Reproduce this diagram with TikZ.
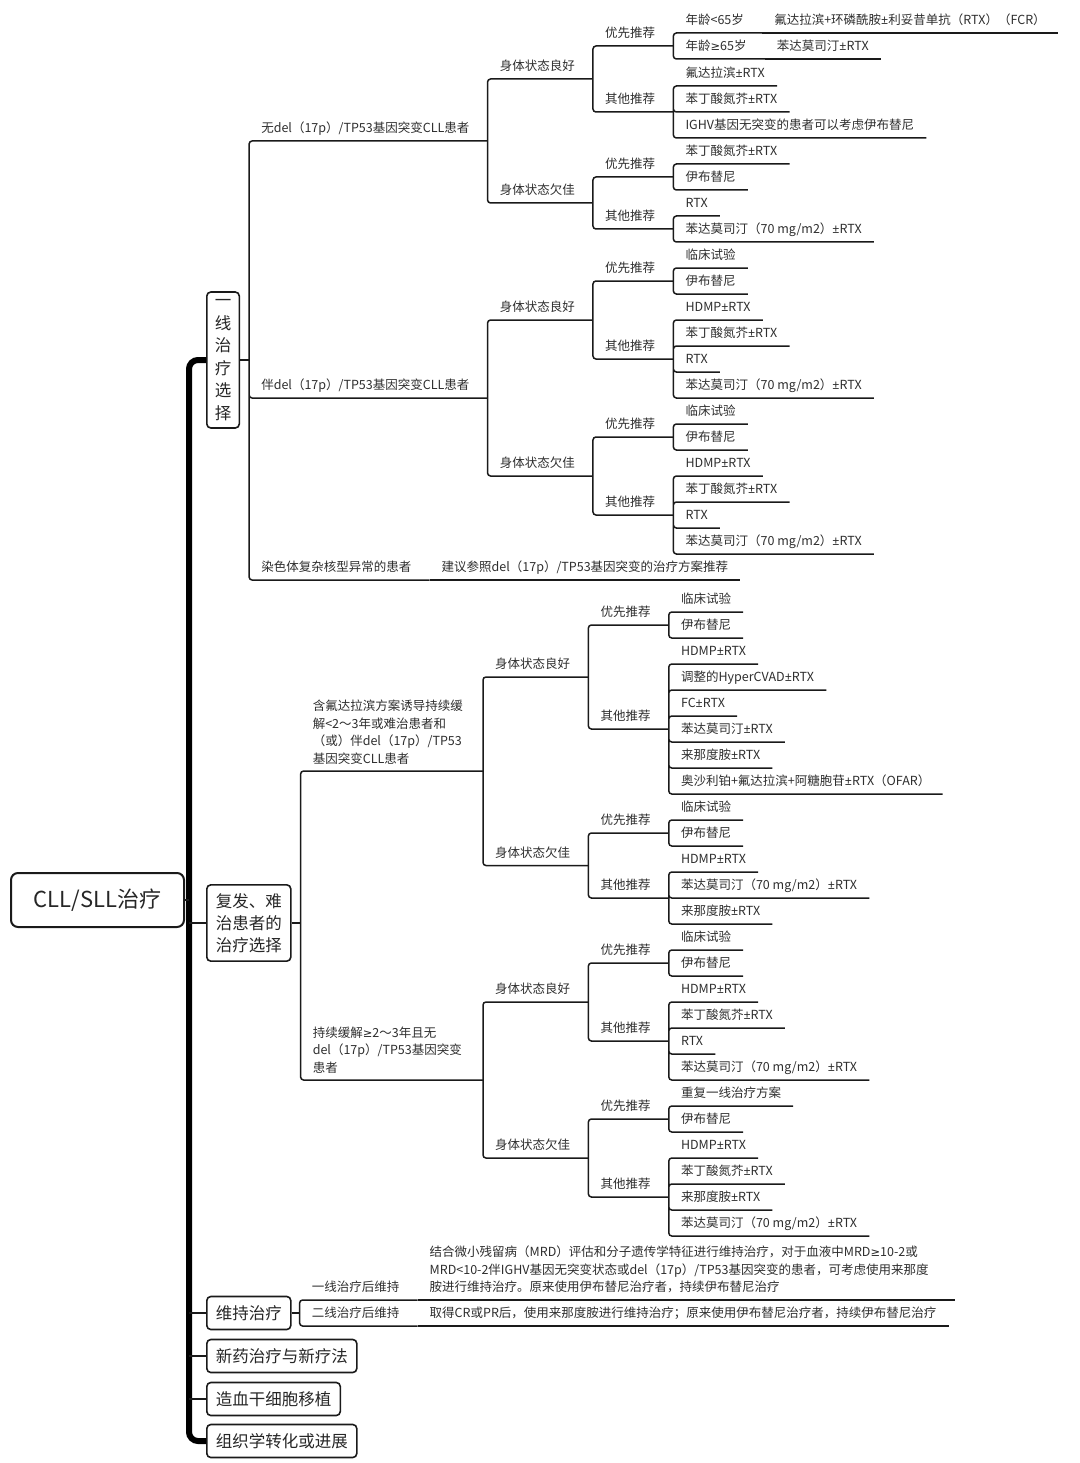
\documentclass[tikz,border=0pt]{standalone}
\usepackage{fontspec}
\setmainfont{Noto Sans CJK SC}
\newfontfamily\latinfont{Noto Sans}
\newfontfamily\symfont{DejaVu Sans}
\newcommand{\pmx}{{\latinfont ±}}
\newcommand{\gex}{{\symfont\fontsize{11.5}{11.5}\selectfont ≥}}
\definecolor{ink}{HTML}{2E2E2E}
\definecolor{edge}{HTML}{1A1A1A}

\tikzset{
  tnode/.style={anchor=south west, inner xsep=12pt, inner ysep=6pt, text depth=2pt, text=ink, font=\fontsize{12.5}{17}\selectfont},
  branch/.style={tnode, execute at end node={\hspace{6pt}}},
  wrapped/.style={anchor=south west, inner xsep=12pt, inner ysep=6.5pt, align=left, text=ink, font=\fontsize{12.5}{17.5}\selectfont},
  link/.style={draw=edge, line width=1.5pt, rounded corners=3pt},
  topic/.style={draw=edge, line width=1.6pt, rounded corners=4pt, anchor=west, inner xsep=9pt, inner ysep=8pt, minimum height=33pt, text=black!85, font=\fontsize{16.5}{22}\selectfont},
  rootbox/.style={draw=edge, line width=2pt, rounded corners=7pt, anchor=west, minimum width=173pt, minimum height=54pt, text=black!85, font=\fontsize{22}{26}\selectfont},
  spine/.style={draw=black, line width=6pt, rounded corners=9pt},
  stub/.style={draw=edge, line width=1.6pt}
}

\begin{document}
\begin{tikzpicture}[x=1pt, y=-1pt]
  \useasboundingbox (0,0) rectangle (1079,1463);

  % Root and first level
  \node[rootbox] (cll) at (10,900) {CLL/SLL治疗};
  \coordinate (sp) at (189,900);
  \node[topic, align=center, inner xsep=8pt, inner ysep=7.5pt, font=\fontsize{16.5}{22.5}\selectfont] (yx) at (206,360) {一\\线\\治\\疗\\选\\择};
  \node[topic, align=left, inner ysep=8.5pt] (fz) at (206,923) {复发、难\\治患者的\\治疗选择};
  \node[topic] (wc) at (206,1313) {维持治疗};
  \node[topic] (xy) at (206,1356) {新药治疗与新疗法};
  \node[topic] (zx) at (206,1399) {造血干细胞移植};
  \node[topic] (zz) at (206,1441) {组织学转化或进展};

  \draw[spine] (yx.west) -| (sp |- zz.west) -- (zz.west);
  \draw[stub] (cll.east) -- (sp |- cll.east);
  \draw[stub] (sp |- fz.west) -- (fz.west);
  \draw[stub] (sp |- wc.west) -- (wc.west);
  \draw[stub] (sp |- xy.west) -- (xy.west);
  \draw[stub] (sp |- zx.west) -- (zx.west);

  % ---- first-line treatment ----
  \coordinate (yxk) at ([xshift=9pt]yx.east);
  \node[branch] (wu) at (yxk |- 0,141) {无del（17p）/TP53基因突变CLL患者};
  \node[branch] (ban) at (yxk |- 0,398) {伴del（17p）/TP53基因突变CLL患者};
  \node[branch] (rs) at (yxk |- 0,580) {染色体复杂核型异常的患者};
  \node[tnode] (rs1) at (rs.south east) {建议参照del（17p）/TP53基因突变的治疗方案推荐};
  \draw[link] (yx.east) -- (yxk);
  \draw[link] (yxk) |- (wu.south east) (yxk) |- (ban.south east) (yxk) |- (rs.south east);
  \draw[link] (rs.south east) -- (rs1.south east);

  % no del(17p)
  \node[branch] (wuG) at (wu.south east |- 0,79) {身体状态良好};
  \node[branch] (wuQ) at (wu.south east |- 0,203) {身体状态欠佳};
  \draw[link] (wu.south east) |- (wuG.south east) (wu.south east) |- (wuQ.south east);

  \node[branch] (wuGy) at (wuG.south east |- 0,46) {优先推荐};
  \node[branch] (wuGq) at (wuG.south east |- 0,112) {其他推荐};
  \draw[link] (wuG.south east) |- (wuGy.south east) (wuG.south east) |- (wuGq.south east);
  \node[branch] (wuQy) at (wuQ.south east |- 0,177) {优先推荐};
  \node[branch] (wuQq) at (wuQ.south east |- 0,229) {其他推荐};
  \draw[link] (wuQ.south east) |- (wuQy.south east) (wuQ.south east) |- (wuQq.south east);

  \node[branch] (wuGy1) at (wuGy.south east |- 0,33) {年龄<65岁};
  \node[tnode] (wuGy1a) at (wuGy1.south east) {氟达拉滨+环磷酰胺\pmx 利妥昔单抗（RTX）（FCR）};
  \node[branch] (wuGy2) at (wuGy.south east |- 0,59) {年龄\gex 65岁};
  \node[tnode] (wuGy2a) at (wuGy2.south east) {苯达莫司汀\pmx RTX};
  \draw[link] (wuGy.south east) |- (wuGy1.south east) (wuGy.south east) |- (wuGy2.south east);
  \draw[link] (wuGy1.south east) -- (wuGy1a.south east);
  \draw[link] (wuGy2.south east) -- (wuGy2a.south east);

  \node[tnode] (wuGq1) at (wuGq.south east |- 0,86) {氟达拉滨\pmx RTX};
  \node[tnode] (wuGq2) at (wuGq.south east |- 0,112) {苯丁酸氮芥\pmx RTX};
  \node[tnode] (wuGq3) at (wuGq.south east |- 0,138) {IGHV基因无突变的患者可以考虑伊布替尼};
  \draw[link] (wuGq.south east) |- (wuGq1.south east) (wuGq.south east) |- (wuGq2.south east) (wuGq.south east) |- (wuGq3.south east);

  \node[tnode] (wuQy1) at (wuQy.south east |- 0,164) {苯丁酸氮芥\pmx RTX};
  \node[tnode] (wuQy2) at (wuQy.south east |- 0,190) {伊布替尼};
  \draw[link] (wuQy.south east) |- (wuQy1.south east) (wuQy.south east) |- (wuQy2.south east);

  \node[tnode] (wuQq1) at (wuQq.south east |- 0,216) {RTX};
  \node[tnode] (wuQq2) at (wuQq.south east |- 0,242) {苯达莫司汀（70 mg/m2）\pmx RTX};
  \draw[link] (wuQq.south east) |- (wuQq1.south east) (wuQq.south east) |- (wuQq2.south east);

  % with del(17p)
  \node[branch] (banG) at (ban.south east |- 0,320) {身体状态良好};
  \node[branch] (banQ) at (ban.south east |- 0,476) {身体状态欠佳};
  \draw[link] (ban.south east) |- (banG.south east) (ban.south east) |- (banQ.south east);

  \node[branch] (banGy) at (banG.south east |- 0,281) {优先推荐};
  \node[branch] (banGq) at (banG.south east |- 0,359) {其他推荐};
  \draw[link] (banG.south east) |- (banGy.south east) (banG.south east) |- (banGq.south east);
  \node[branch] (banQy) at (banQ.south east |- 0,437) {优先推荐};
  \node[branch] (banQq) at (banQ.south east |- 0,515) {其他推荐};
  \draw[link] (banQ.south east) |- (banQy.south east) (banQ.south east) |- (banQq.south east);

  \node[tnode] (banGy1) at (banGy.south east |- 0,268) {临床试验};
  \node[tnode] (banGy2) at (banGy.south east |- 0,294) {伊布替尼};
  \draw[link] (banGy.south east) |- (banGy1.south east) (banGy.south east) |- (banGy2.south east);

  \node[tnode] (banGq1) at (banGq.south east |- 0,320) {HDMP\pmx RTX};
  \node[tnode] (banGq2) at (banGq.south east |- 0,346) {苯丁酸氮芥\pmx RTX};
  \node[tnode] (banGq3) at (banGq.south east |- 0,372) {RTX};
  \node[tnode] (banGq4) at (banGq.south east |- 0,398) {苯达莫司汀（70 mg/m2）\pmx RTX};
  \draw[link] (banGq.south east) |- (banGq1.south east) (banGq.south east) |- (banGq2.south east)
    (banGq.south east) |- (banGq3.south east) (banGq.south east) |- (banGq4.south east);

  \node[tnode] (banQy1) at (banQy.south east |- 0,424) {临床试验};
  \node[tnode] (banQy2) at (banQy.south east |- 0,450) {伊布替尼};
  \draw[link] (banQy.south east) |- (banQy1.south east) (banQy.south east) |- (banQy2.south east);

  \node[tnode] (banQq1) at (banQq.south east |- 0,476) {HDMP\pmx RTX};
  \node[tnode] (banQq2) at (banQq.south east |- 0,502) {苯丁酸氮芥\pmx RTX};
  \node[tnode] (banQq3) at (banQq.south east |- 0,528) {RTX};
  \node[tnode] (banQq4) at (banQq.south east |- 0,554) {苯达莫司汀（70 mg/m2）\pmx RTX};
  \draw[link] (banQq.south east) |- (banQq1.south east) (banQq.south east) |- (banQq2.south east)
    (banQq.south east) |- (banQq3.south east) (banQq.south east) |- (banQq4.south east);

  % ---- relapsed / refractory ----
  \coordinate (fzk) at ([xshift=9pt]fz.east);
  \node[wrapped, text width=158pt] (fzA) at (fzk |- 0,771) {含氟达拉滨方案诱导持续缓\\解<2～3年或难治患者和\\（或）伴del（17p）/TP53\\基因突变CLL患者};
  \node[wrapped, text width=158pt] (fzB) at (fzk |- 0,1080) {持续缓解\gex 2～3年且无\\del（17p）/TP53基因突变\\患者};
  \draw[link] (fz.east) -- (fzk);
  \draw[link] (fzk) |- (fzA.south east) (fzk) |- (fzB.south east);

  \node[branch] (fzAG) at (fzA.south east |- 0,677) {身体状态良好};
  \node[branch] (fzAQ) at (fzA.south east |- 0,865.5) {身体状态欠佳};
  \draw[link] (fzA.south east) |- (fzAG.south east) (fzA.south east) |- (fzAQ.south east);
  \node[branch] (fzBG) at (fzB.south east |- 0,1002) {身体状态良好};
  \node[branch] (fzBQ) at (fzB.south east |- 0,1158) {身体状态欠佳};
  \draw[link] (fzB.south east) |- (fzBG.south east) (fzB.south east) |- (fzBQ.south east);

  \node[branch] (fzAGy) at (fzAG.south east |- 0,625) {优先推荐};
  \node[branch] (fzAGq) at (fzAG.south east |- 0,729) {其他推荐};
  \draw[link] (fzAG.south east) |- (fzAGy.south east) (fzAG.south east) |- (fzAGq.south east);
  \node[branch] (fzAQy) at (fzAQ.south east |- 0,833) {优先推荐};
  \node[branch] (fzAQq) at (fzAQ.south east |- 0,898) {其他推荐};
  \draw[link] (fzAQ.south east) |- (fzAQy.south east) (fzAQ.south east) |- (fzAQq.south east);
  \node[branch] (fzBGy) at (fzBG.south east |- 0,963) {优先推荐};
  \node[branch] (fzBGq) at (fzBG.south east |- 0,1041) {其他推荐};
  \draw[link] (fzBG.south east) |- (fzBGy.south east) (fzBG.south east) |- (fzBGq.south east);
  \node[branch] (fzBQy) at (fzBQ.south east |- 0,1119) {优先推荐};
  \node[branch] (fzBQq) at (fzBQ.south east |- 0,1197) {其他推荐};
  \draw[link] (fzBQ.south east) |- (fzBQy.south east) (fzBQ.south east) |- (fzBQq.south east);

  \node[tnode] (fzAGy1) at (fzAGy.south east |- 0,612) {临床试验};
  \node[tnode] (fzAGy2) at (fzAGy.south east |- 0,638) {伊布替尼};
  \draw[link] (fzAGy.south east) |- (fzAGy1.south east) (fzAGy.south east) |- (fzAGy2.south east);

  \node[tnode] (fzAGq1) at (fzAGq.south east |- 0,664) {HDMP\pmx RTX};
  \node[tnode] (fzAGq2) at (fzAGq.south east |- 0,690) {调整的HyperCVAD\pmx RTX};
  \node[tnode] (fzAGq3) at (fzAGq.south east |- 0,716) {FC\pmx RTX};
  \node[tnode] (fzAGq4) at (fzAGq.south east |- 0,742) {苯达莫司汀\pmx RTX};
  \node[tnode] (fzAGq5) at (fzAGq.south east |- 0,768) {来那度胺\pmx RTX};
  \node[tnode] (fzAGq6) at (fzAGq.south east |- 0,794) {奥沙利铂+氟达拉滨+阿糖胞苷\pmx RTX（OFAR）};
  \draw[link] (fzAGq.south east) |- (fzAGq1.south east) (fzAGq.south east) |- (fzAGq2.south east)
    (fzAGq.south east) |- (fzAGq3.south east) (fzAGq.south east) |- (fzAGq4.south east)
    (fzAGq.south east) |- (fzAGq5.south east) (fzAGq.south east) |- (fzAGq6.south east);

  \node[tnode] (fzAQy1) at (fzAQy.south east |- 0,820) {临床试验};
  \node[tnode] (fzAQy2) at (fzAQy.south east |- 0,846) {伊布替尼};
  \draw[link] (fzAQy.south east) |- (fzAQy1.south east) (fzAQy.south east) |- (fzAQy2.south east);

  \node[tnode] (fzAQq1) at (fzAQq.south east |- 0,872) {HDMP\pmx RTX};
  \node[tnode] (fzAQq2) at (fzAQq.south east |- 0,898) {苯达莫司汀（70 mg/m2）\pmx RTX};
  \node[tnode] (fzAQq3) at (fzAQq.south east |- 0,924) {来那度胺\pmx RTX};
  \draw[link] (fzAQq.south east) |- (fzAQq1.south east) (fzAQq.south east) |- (fzAQq2.south east)
    (fzAQq.south east) |- (fzAQq3.south east);

  \node[tnode] (fzBGy1) at (fzBGy.south east |- 0,950) {临床试验};
  \node[tnode] (fzBGy2) at (fzBGy.south east |- 0,976) {伊布替尼};
  \draw[link] (fzBGy.south east) |- (fzBGy1.south east) (fzBGy.south east) |- (fzBGy2.south east);

  \node[tnode] (fzBGq1) at (fzBGq.south east |- 0,1002) {HDMP\pmx RTX};
  \node[tnode] (fzBGq2) at (fzBGq.south east |- 0,1028) {苯丁酸氮芥\pmx RTX};
  \node[tnode] (fzBGq3) at (fzBGq.south east |- 0,1054) {RTX};
  \node[tnode] (fzBGq4) at (fzBGq.south east |- 0,1080) {苯达莫司汀（70 mg/m2）\pmx RTX};
  \draw[link] (fzBGq.south east) |- (fzBGq1.south east) (fzBGq.south east) |- (fzBGq2.south east)
    (fzBGq.south east) |- (fzBGq3.south east) (fzBGq.south east) |- (fzBGq4.south east);

  \node[tnode] (fzBQy1) at (fzBQy.south east |- 0,1106) {重复一线治疗方案};
  \node[tnode] (fzBQy2) at (fzBQy.south east |- 0,1132) {伊布替尼};
  \draw[link] (fzBQy.south east) |- (fzBQy1.south east) (fzBQy.south east) |- (fzBQy2.south east);

  \node[tnode] (fzBQq1) at (fzBQq.south east |- 0,1158) {HDMP\pmx RTX};
  \node[tnode] (fzBQq2) at (fzBQq.south east |- 0,1184) {苯丁酸氮芥\pmx RTX};
  \node[tnode] (fzBQq3) at (fzBQq.south east |- 0,1210) {来那度胺\pmx RTX};
  \node[tnode] (fzBQq4) at (fzBQq.south east |- 0,1236) {苯达莫司汀（70 mg/m2）\pmx RTX};
  \draw[link] (fzBQq.south east) |- (fzBQq1.south east) (fzBQq.south east) |- (fzBQq2.south east)
    (fzBQq.south east) |- (fzBQq3.south east) (fzBQq.south east) |- (fzBQq4.south east);

  % ---- maintenance ----
  \coordinate (wck) at ([xshift=8pt]wc.east);
  \node[branch] (wcA) at (wck |- 0,1300) {一线治疗后维持};
  \node[branch] (wcB) at (wck |- 0,1326) {二线治疗后维持};
  \node[wrapped, text width=513pt] (wcA1) at (wcA.south east) {结合微小残留病（MRD）评估和分子遗传学特征进行维持治疗，对于血液中MRD\gex 10-2或\\MRD<10-2伴IGHV基因无突变状态或del（17p）/TP53基因突变的患者，可考虑使用来那度\\胺进行维持治疗。原来使用伊布替尼治疗者，持续伊布替尼治疗};
  \node[tnode] (wcB1) at (wcB.south east) {取得CR或PR后，使用来那度胺进行维持治疗；原来使用伊布替尼治疗者，持续伊布替尼治疗};
  \draw[link] (wc.east) -- (wck);
  \draw[link] (wck) |- (wcA.south east) (wck) |- (wcB.south east);
  \draw[link] (wcA.south east) -- (wcA1.south east);
  \draw[link] (wcB.south east) -- (wcB1.south east);
\end{tikzpicture}
\end{document}
